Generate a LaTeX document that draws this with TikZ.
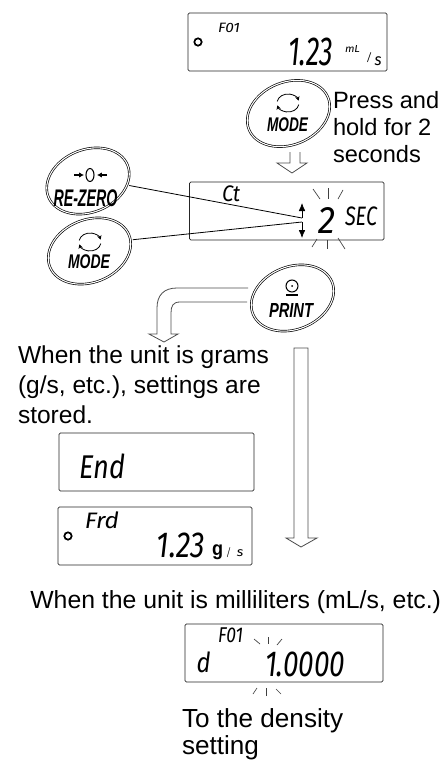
\documentclass[tikz,border=0pt]{standalone}
\usepackage{fontspec}
\usepackage{graphicx}
\setmainfont{Liberation Sans}
\newfontfamily\lcdf{Fira Sans}
\usetikzlibrary{shapes.geometric,arrows.meta}
\newdimen\pxu \pxu=0.75pt
\newcommand{\lcdt}[6][]{\node[lcdtext,#1] at (#2,#3) {\resizebox*{#4\pxu}{#5\pxu}{\lcdf\itshape #6}};}
\newcommand{\panel}[5]{\node[panelbox,minimum width={(#4-#2)*0.75pt},minimum height={(#5-#3)*0.75pt}] (#1) at ({(#2+#4)/2},{(#3+#5)/2}) {};}
\newcommand{\btnlabel}[5]{\node[lcdtext] at (#1,#2) {\resizebox*{#3\pxu}{#4\pxu}{\bfseries\itshape #5}};}
\newcommand{\modesym}[2]{%
  \draw[symline,-{Stealth[length=3.2pt,width=3.4pt]}] (#1,#2) ++(190:11 and 9) arc[start angle=190,end angle=345,x radius=11,y radius=9];
  \draw[symline,-{Stealth[length=3.2pt,width=3.4pt]}] (#1,#2) ++(10:11 and 9) arc[start angle=10,end angle=165,x radius=11,y radius=9];}
\tikzset{
  panelbox/.style={draw=black!85,line width=0.6pt,rounded corners=1pt,inner sep=0pt,fill=white},
  lcdtext/.style={inner sep=0pt,outer sep=0pt,text=black},
  keybtn/.style={ellipse,draw=black,line width=0.5pt,double=white,double distance=0.8pt,minimum width=64pt,minimum height=47pt,inner sep=0pt,rotate=22},
  symline/.style={line width=0.6pt,draw=black},
  lead/.style={line width=0.6pt,draw=black},
  ray/.style={line width=0.5pt,draw=black!75},
  blockarrow/.style={line width=0.6pt,draw=black!70,miter limit=10},
  dotmark/.style={circle,draw=black,line width=1.3pt,fill=white,minimum size=5.5pt,inner sep=0pt},
  body/.style={inner sep=0pt,outer sep=0pt,anchor=base west,align=left,text=black}
}
\begin{document}
\begin{tikzpicture}[x=0.75pt,y=-0.75pt]
\useasboundingbox (0,0) rectangle (442,760);
% top panel
\panel{p1}{188}{13}{387}{71}
\node[dotmark] (d1) at (198,42) {};
\lcdt{229}{27.5}{22}{9.5}{F01}
\lcdt{310.5}{52}{45}{28}{1.23}
\lcdt{352.5}{48.5}{15}{7}{mL}
\lcdt{369}{58}{5}{10}{/}
\lcdt{378}{61.5}{7}{9}{s}
% MODE key 1
\node[keybtn] (m1) at (288.5,113.5) {};
\modesym{288}{103}
\btnlabel{287.5}{124.5}{41}{14}{MODE}
\node[body,font=\fontsize{17.7}{20.25}\selectfont] (press) at (333,162) {Press and\\hold for 2\\seconds};
% small down arrow
\draw[blockarrow,fill=white] (290,152) -- (290,163) -- (277,163) -- (292,173) -- (307,163) -- (300,163) -- (300,152);
% panel 2
\panel{p2}{189.5}{182}{384}{240}
\lcdt{231}{194}{18}{16}{Ct}
\lcdt{326.5}{220}{17}{26}{2}
\lcdt{361}{216.5}{32}{19}{SEC}
\draw[ray] (313,189) -- (320,199);
\draw[ray] (328,188) -- (328,199);
\draw[ray] (343,190) -- (338,199);
\draw[ray] (317,239) -- (312,247);
\draw[ray] (327,240) -- (327,249);
\draw[ray] (338,238) -- (345,249);
\coordinate (uptail) at (302,218);
\coordinate (uptip) at (302,203);
\coordinate (dntail) at (302,222);
\coordinate (dntip) at (302,238);
\draw[lead,-{Latex[length=6pt,width=5pt]}] (uptail) -- (uptip);
\draw[lead,-{Latex[length=6pt,width=5pt]}] (dntail) -- (dntip);
% RE-ZERO
\node[keybtn] (rz) at (88,181) {};
\node[keybtn] (m2) at (89.5,251) {};
\draw[lead,shorten <=1.5pt] (rz.-28) -- (uptail);
\draw[lead,shorten <=1.5pt] (m2.-7) -- (dntail);
\btnlabel{85.5}{198.5}{64}{17}{RE-ZERO}
\draw[symline,line width=0.8pt] (90,175) ellipse[x radius=4,y radius=6.5];
\draw[symline,line width=0.8pt,-{Latex[length=3.6pt,width=4pt]}] (74,175) -- (84,175);
\draw[symline,line width=0.8pt,-{Latex[length=3.6pt,width=4pt]}] (107,175) -- (97,175);
\modesym{90}{242}
\btnlabel{89}{262}{42}{14}{MODE}
% PRINT
\node[keybtn] (pr) at (292.5,298) {};
\draw[symline,line width=0.8pt] (292,286) circle[radius=6];
\fill (292,286) circle[radius=1];
\draw[symline,line width=0.9pt] (286,295) -- (298,295);
\btnlabel{291}{310}{44}{14}{PRINT}
% bent arrow
\draw[blockarrow] (248,288) -- (177,288) .. controls (164,288) and (157,295) .. (157,308) -- (157,334) -- (149,334) -- (164,342) -- (178,334) -- (171,334) -- (171,313) .. controls (171,306) and (173,302) .. (180,302) -- (247,302);
% grams text
\node[body,font=\fontsize{18.4}{22.5}\selectfont] (grams) at (18,423) {When the unit is grams\\(g/s, etc.), settings are\\stored.};
% long arrow
\draw[blockarrow] (294,348) -- (308,348) -- (308,538) -- (317,538) -- (301,547) -- (286,538) -- (294,538) -- cycle;
% End
\panel{p3}{59}{433}{254}{491}
\lcdt{102}{466.5}{46}{25}{End}
% Frd
\panel{p4}{58}{507}{252}{565}
\node[dotmark] (d2) at (68,536) {};
\lcdt{102}{520.5}{34}{17}{Frd}
\lcdt{181}{545.5}{48}{25}{1.23}
\node[lcdtext] at (217.5,552) {\resizebox*{11\pxu}{15\pxu}{\bfseries g}};
\lcdt{228.5}{553}{4}{10}{/}
\lcdt{240}{553}{6.5}{7}{s}
% ml text
\node[body,anchor=base east,font=\fontsize{18.6}{20}\selectfont] (ml) at (441,608) {When the unit is milliliters (mL/s, etc.)};
% d panel
\panel{p5}{185}{624}{383}{682}
\lcdt{230.5}{635.5}{25}{15}{F01}
\lcdt{203.5}{662.5}{14}{21}{d}
\lcdt{305}{664.5}{80}{25}{1.0000}
\draw[ray] (254,639) -- (260,644);
\draw[ray] (268,637) -- (268,644);
\draw[ray] (282,639) -- (277,645);
\draw[ray] (253,694) -- (257,688);
\draw[ray] (266,696) -- (266,688);
\draw[ray] (281,694) -- (276,689);
\node[body,font=\fontsize{19.6}{19.9}\selectfont] (dens) at (182,754.5) {To the density\\setting};
\end{tikzpicture}
\end{document}
